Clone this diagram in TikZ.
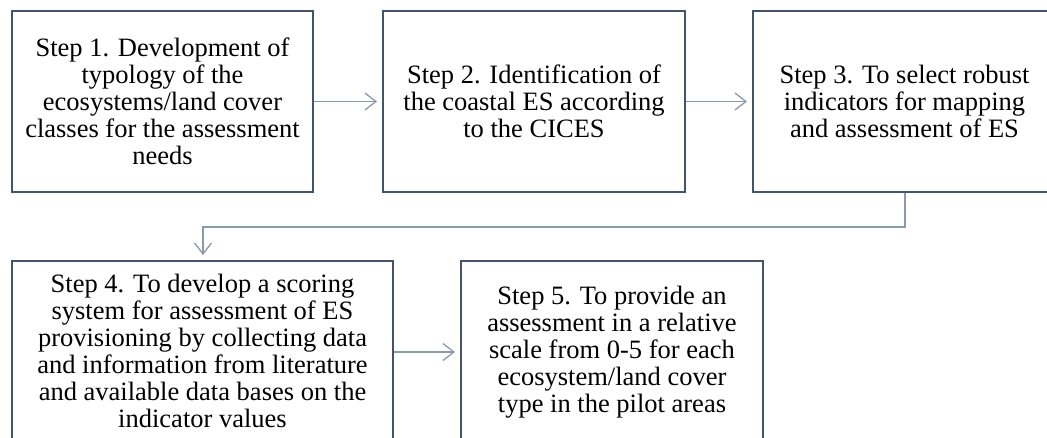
\documentclass[tikz,border=0pt]{standalone}
\usepackage{fontspec}
\setmainfont{Liberation Serif}
\usetikzlibrary{arrows.meta}
\definecolor{boxline}{HTML}{44546A}
\definecolor{arrline}{HTML}{8A99AC}
\tikzset{
  stepbox/.style={draw=boxline, line width=2pt, fill=white, align=center,
    font=\fontsize{26.5}{27}\selectfont, inner sep=0pt, text=black},
  conn/.style={draw=arrline, line width=1.3pt,
    -{Straight Barb[length=11pt,width=17pt,line width=1.3pt]}, shorten >=5pt}
}
\begin{document}
\begin{tikzpicture}[x=1pt,y=-1pt]
\useasboundingbox (0,0) rectangle (1047,437);
\clip (0,0) rectangle (1047,437);
\fill[white] (0,0) rectangle (1047,437);
\node[stepbox, minimum width=301pt, minimum height=181pt] (s1) at (162.5,101.5)
  {Step 1. Development of\\typology of the\\ecosystems/land cover\\classes for the assessment\\needs};
\node[stepbox, minimum width=302pt, minimum height=181pt] (s2) at (534,101.5)
  {Step 2. Identification of\\the coastal ES according\\to the CICES};
\node[stepbox, minimum width=303pt, minimum height=181pt] (s3) at (904.5,101.5)
  {Step 3. To select robust\\indicators for mapping\\and assessment of ES};
\node[stepbox, minimum width=381pt, minimum height=180pt] (s4) at (202.5,351)
  {Step 4. To develop a scoring\\system for assessment of ES\\provisioning by collecting data\\and information from literature\\and available data bases on the\\indicator values};
\node[stepbox, minimum width=302pt, minimum height=182pt] (s5) at (612,352)
  {Step 5. To provide an\\assessment in a relative\\scale from 0-5 for each\\ecosystem/land cover\\type in the pilot areas};
\coordinate (b1) at (905,227);
\coordinate (b2) at (203,227);
\draw[conn] (s1.east) -- (s2.west);
\draw[conn] (s2.east) -- (s3.west);
\draw[conn] (s3.south -| b1) -- (b1) -- (b2) -- (b2 |- s4.north);
\draw[conn] (s4.east |- 0,352) -- (s5.west |- 0,352);
\end{tikzpicture}
\end{document}
